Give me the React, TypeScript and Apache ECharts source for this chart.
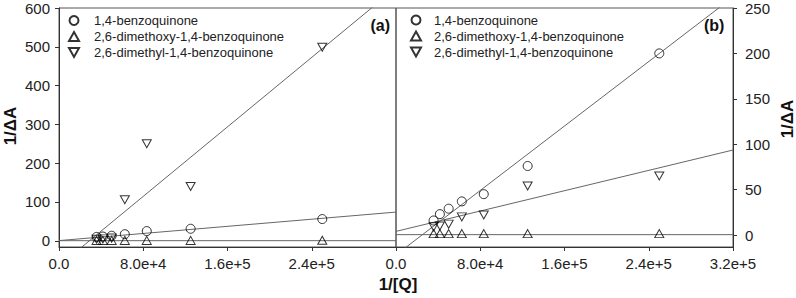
import React, { useEffect, useRef } from "react";
import * as echarts from "echarts";

// ---- data ----
const xQ = [35714, 41667, 50000, 62500, 83333, 125000, 250000];
const seriesNames = [
  "1,4-benzoquinone",
  "2,6-dimethoxy-1,4-benzoquinone",
  "2,6-dimethyl-1,4-benzoquinone",
];
// panel (a)
const bqA = [10, 11, 13, 17, 25, 31, 56];
const dmoA = [1, 1, 1, 1, 1, 1, 1.5];
const dmA = [4, 5, 7, 106, 250, 140, 499];
// panel (b)
const bqB = [16, 23, 29, 37, 45, 76, 200];
const dmoB = [1.5, 1.5, 1.5, 1.5, 1.5, 1.5, 1.5];
const dmB = [9, 10, 12, 20, 22, 54, 65];

// fitted straight lines: values at x = 0 and x = 3.2e5
const fitX = [0, 320000];
const fitA_bq = [0.5, 74];
const fitA_dmo = [0.3, 0.3];
const fitA_dm = [-64.6, 652];
const fitB_bq = [-21.9, 262];
const fitB_dmo = [0.4, 0.4];
const fitB_dm = [4, 93.6];

const xLabelsA = [0, 80000, 160000, 240000];
const xLabelsB = [80000, 160000, 240000, 320000];
const xLabelsB0 = [0];
const yTicksA = [0, 100, 200, 300, 400, 500, 600];
const yTicksB = [0, 50, 100, 150, 200, 250];

const FONT = "'Liberation Sans', Arial, sans-serif";
const DOWN_TRI = "path://M0,0L10,0L5,9Z";
const UP_TRI = "path://M5,0L10,9L0,9Z";
const symbols = ["circle", UP_TRI, DOWN_TRI];
const symbolSizes: any[] = [9, [9, 8], [9, 8]];

const pts = (ys: number[]) => xQ.map((x, i) => [x, ys[i]]);
const fit = (ys: number[]) => fitX.map((x, i) => [x, ys[i]]);
const fmtX = (v: number) => (v === 0 ? "0.0" : v.toExponential(1));

function scatter(idx: number, ys: number[], k: number) {
  return {
    type: "scatter",
    name: seriesNames[k],
    xAxisIndex: idx,
    yAxisIndex: idx,
    data: pts(ys),
    symbol: symbols[k],
    symbolSize: symbolSizes[k],
    itemStyle: { color: "transparent", borderColor: "#000", borderWidth: 1 },
    z: 3,
  };
}
function fitLine(idx: number, ys: number[]) {
  return {
    type: "line",
    xAxisIndex: idx,
    yAxisIndex: idx,
    data: fit(ys),
    symbol: "none",
    clip: true,
    lineStyle: { color: "#666", width: 1 },
    z: 2,
    silent: true,
  };
}

export default function App() {
  const ref = useRef<HTMLDivElement>(null);
  useEffect(() => {
    if (!ref.current) return;
    const chart = echarts.init(ref.current, undefined, { renderer: "svg" });
    const axisLine = { show: true, onZero: false, lineStyle: { color: "#333", width: 1 } };
    const tick = { show: true, inside: false, length: 4, lineStyle: { color: "#333" } };
    const label = { color: "#222", fontSize: 15, fontFamily: FONT, hideOverlap: false };
    const legendBase = {
      orient: "vertical",
      padding: 0,
      itemWidth: 10,
      itemHeight: 9,
      itemGap: 1,
      data: seriesNames,
      selectedMode: false,
    };
    chart.setOption({
      animation: false,
      backgroundColor: "#fff",
      textStyle: { fontFamily: FONT },
      grid: [
        { left: 59, top: 8, width: 337, height: 239, show: true, borderColor: "#555", borderWidth: 1, backgroundColor: "transparent" },
        { left: 396, top: 8, width: 337, height: 239, show: true, borderColor: "#555", borderWidth: 1, backgroundColor: "transparent" },
        { left: 300, top: 8, width: 200, height: 239, show: false },
      ],
      xAxis: [
        {
          gridIndex: 0, type: "value", min: 0, max: 320000, interval: 80000,
          axisLine, axisTick: tick, splitLine: { show: false },
          axisLabel: { ...label, margin: 9, showMinLabel: true, showMaxLabel: true, formatter: fmtX, customValues: xLabelsA },
        },
        {
          gridIndex: 1, type: "value", min: 0, max: 320000, interval: 80000,
          axisLine, axisTick: tick, splitLine: { show: false },
          axisLabel: { ...label, margin: 9, showMinLabel: true, showMaxLabel: true, formatter: fmtX, customValues: xLabelsB },
        },
        {
          // carries the "0.0" label of panel (b), which sits on the shared border
          gridIndex: 2, type: "value", min: -96000, max: 104000,
          axisLine: { show: false }, axisTick: { show: false }, splitLine: { show: false },
          axisLabel: { ...label, margin: 9, showMinLabel: true, showMaxLabel: true, formatter: fmtX, customValues: xLabelsB0 },
        },
      ],
      yAxis: [
        {
          gridIndex: 0, type: "value", min: -16, max: 600, position: "left",
          axisLine, splitLine: { show: false },
          axisTick: { ...tick, customValues: yTicksA },
          axisLabel: { ...label, margin: 9, customValues: yTicksA },
        },
        {
          gridIndex: 1, type: "value", min: -13.2, max: 250, position: "right",
          axisLine, splitLine: { show: false },
          axisTick: { ...tick, customValues: yTicksB },
          axisLabel: { ...label, margin: 12, customValues: yTicksB },
        },
        { gridIndex: 2, type: "value", show: false },
      ],
      legend: [
        { ...legendBase, left: 68, top: 13, textStyle: { fontSize: 13, lineHeight: 15, color: "#222", fontFamily: FONT, padding: [0, 0, 0, 10] } },
        { ...legendBase, left: 410, top: 12.5, textStyle: { fontSize: 13, lineHeight: 15, color: "#222", fontFamily: FONT, padding: [0, 0, 0, 8] } },
      ],
      graphic: [
        { type: "text", x: 390, y: 25, style: { text: "(a)", font: `bold 16px ${FONT}`, fill: "#111", align: "right", verticalAlign: "middle" } },
        { type: "text", x: 704, y: 25, style: { text: "(b)", font: `bold 16px ${FONT}`, fill: "#111", align: "left", verticalAlign: "middle" } },
        { type: "text", x: 10, y: 126, rotation: Math.PI / 2, style: { text: "1/ΔA", font: `bold 17px ${FONT}`, fill: "#111", align: "center", verticalAlign: "middle" } },
        { type: "text", x: 787, y: 119, rotation: Math.PI / 2, style: { text: "1/ΔA", font: `bold 17px ${FONT}`, fill: "#111", align: "center", verticalAlign: "middle" } },
        { type: "text", x: 398, y: 284, style: { text: "1/[Q]", font: `bold 17px ${FONT}`, fill: "#111", align: "center", verticalAlign: "middle" } },
      ],
      series: [
        fitLine(0, fitA_bq), fitLine(0, fitA_dmo), fitLine(0, fitA_dm),
        fitLine(1, fitB_bq), fitLine(1, fitB_dmo), fitLine(1, fitB_dm),
        scatter(0, bqA, 0), scatter(0, dmoA, 1), scatter(0, dmA, 2),
        scatter(1, bqB, 0), scatter(1, dmoB, 1), scatter(1, dmB, 2),
      ],
    });
    return () => chart.dispose();
  }, []);
  return <div ref={ref} style={{ position: "absolute", left: 0, top: 0, width: 796, height: 298 }} />;
}
